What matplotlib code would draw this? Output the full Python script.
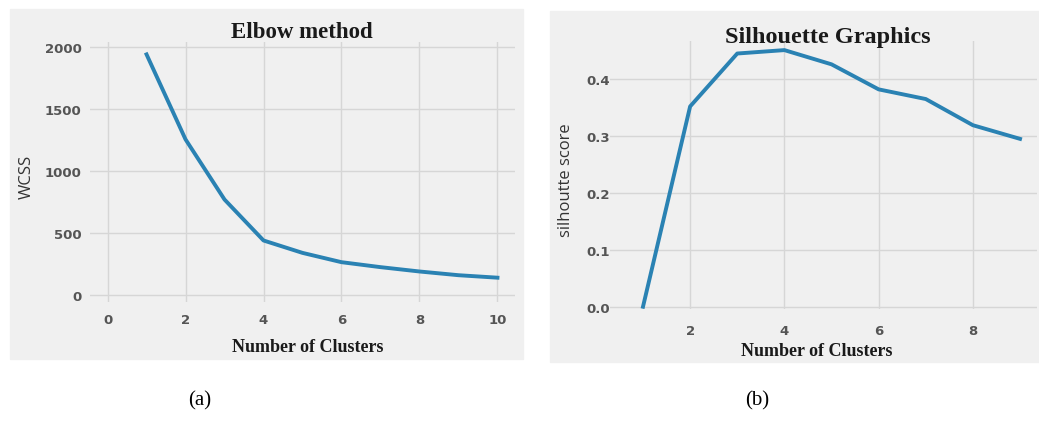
import matplotlib.pyplot as plt
from matplotlib.patches import Rectangle

# ---- data ----
k_elbow = [1, 2, 3, 4, 5, 6, 7, 8, 9, 10]
wcss = [1940, 1255, 770, 440, 340, 265, 225, 190, 160, 140]

k_sil = [1, 2, 3, 4, 5, 6, 7, 8, 9]
sil_score = [0.0, 0.352, 0.445, 0.451, 0.426, 0.382, 0.365, 0.319, 0.295]

W, H = 1039, 427
BG = "#f0f0f0"
GRID = "#d6d6d6"
LINE = "#2a82b3"
TICK = "#555555"


def fx(px):
    return px / W


def fy(py):
    return 1 - py / H


fig = plt.figure(figsize=(W / 100, H / 100), dpi=100)
fig.patch.set_facecolor("white")

# grey panels behind each plot
fig.patches.append(Rectangle((fx(10), fy(360)), fx(523) - fx(10), fy(10) - fy(360),
                             transform=fig.transFigure, color=BG, zorder=-5))
fig.patches.append(Rectangle((fx(550), fy(363)), fx(1039) - fx(550), fy(12) - fy(363),
                             transform=fig.transFigure, color=BG, zorder=-5))


def style_axes(ax):
    ax.set_zorder(2)
    ax.set_facecolor(BG)
    for s in ax.spines.values():
        s.set_visible(False)
    ax.grid(True, color=GRID, linewidth=1.0)
    ax.set_axisbelow(True)
    ax.tick_params(length=0, labelsize=9.5, labelcolor=TICK, pad=12)
    for lab in ax.get_xticklabels() + ax.get_yticklabels():
        lab.set_fontweight("bold")


# ---- (a) elbow ----
ax1 = fig.add_axes([fx(90), fy(303), fx(515) - fx(90), fy(43) - fy(303)])
ax1.plot(k_elbow, wcss, color=LINE, linewidth=2.8)
ax1.set_xlim(-0.45, 10.45)
ax1.set_ylim(-56, 2040)
ax1.set_xticks([0, 2, 4, 6, 8, 10])
ax1.set_yticks([0, 500, 1000, 1500, 2000])
style_axes(ax1)
ax1.tick_params(axis="y", pad=6)
ax1.tick_params(axis="x", pad=8)

fig.text(fx(302), fy(32), "Elbow method", ha="center", va="center",
         family="Liberation Serif", weight="bold", fontsize=16.5, color="#1a1a1a", zorder=3)
fig.text(fx(27), fy(177), "WCSS", ha="center", va="center", rotation=90,
         family="Open Sans", fontsize=12, color="#333333")
fig.text(fx(308), fy(348), "Number of Clusters", ha="center", va="center",
         family="Liberation Serif", weight="bold", fontsize=13, color="#1a1a1a")

# ---- (b) silhouette ----
ax2 = fig.add_axes([fx(610), fy(310), fx(1037) - fx(610), fy(42) - fy(310)])
ax2.plot(k_sil, sil_score, color=LINE, linewidth=2.8)
ax2.set_xlim(0.3, 9.36)
ax2.set_ylim(-0.004, 0.467)
ax2.set_xticks([2, 4, 6, 8])
ax2.set_yticks([0.0, 0.1, 0.2, 0.3, 0.4])
style_axes(ax2)
ax2.tick_params(axis="x", pad=11)
ax2.tick_params(axis="y", pad=0)

fig.text(fx(828), fy(37), "Silhouette Graphics", ha="center", va="center",
         family="Liberation Serif", weight="bold", fontsize=17.5, color="#1a1a1a", zorder=3)
fig.text(fx(566), fy(180), "silhoutte score", ha="center", va="center", rotation=90,
         family="Open Sans", fontsize=12, color="#333333")
fig.text(fx(817), fy(352), "Number of Clusters", ha="center", va="center",
         family="Liberation Serif", weight="bold", fontsize=13, color="#1a1a1a")

# ---- panel captions ----
fig.text(fx(200), fy(401), "(a)", ha="center", va="center",
         family="Liberation Serif", fontsize=15, color="black")
fig.text(fx(757), fy(401), "(b)", ha="center", va="center",
         family="Liberation Serif", fontsize=15, color="black")

fig.savefig("out.png", dpi=100)
